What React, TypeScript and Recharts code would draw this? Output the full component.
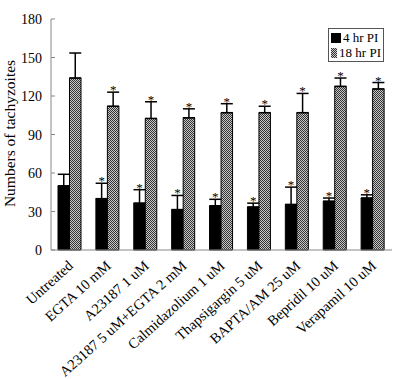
import React from "react";
import {
  BarChart,
  Bar,
  XAxis,
  YAxis,
  ErrorBar,
  LabelList,
} from "recharts";

const categories = [
  "Untreated",
  "EGTA 10 mM",
  "A23187 1 uM",
  "A23187 5 uM+EGTA 2 mM",
  "Calmidazolium 1 uM",
  "Thapsigargin 5 uM",
  "BAPTA/AM 25 uM",
  "Bepridil 10 uM",
  "Verapamil 10 uM",
];
const pi4 = [50, 40, 36.5, 31.5, 34.5, 33.5, 35.5, 38, 40.5];
const pi4Err = [9, 12, 10.5, 11, 5, 3, 13.5, 2.5, 2.5];
const pi18 = [134, 112, 102.5, 103, 107, 107, 107, 127.5, 125.5];
const pi18Err = [19.5, 11, 13, 7, 7, 5, 15, 6.5, 5];
const sig4 = [false, true, true, true, true, true, true, true, true];
const sig18 = [false, true, true, true, true, true, true, true, true];
const yTicks = [0, 30, 60, 90, 120, 150, 180];
const yTitle = "Numbers of tachyzoites";

const data = categories.map((name, i) => ({
  name,
  pi4: pi4[i],
  e4: [0, pi4Err[i]],
  pi18: pi18[i],
  e18: [0, pi18Err[i]],
}));

const FONT = "Liberation Serif";

const star = (errs: number[], sig: boolean[]) => (props: any) => {
  const vb = props.viewBox || {};
  const x = props.x ?? vb.x;
  const y = props.y ?? vb.y;
  const width = props.width ?? vb.width;
  const height = props.height ?? vb.height;
  const i = props.index;
  if (!sig[i] || !props.value) return null;
  const perUnit = height / props.value;
  const top = y - errs[i] * perUnit;
  return (
    <text
      x={x + width / 2}
      y={top + 2}
      textAnchor="middle"
      fontSize={13}
      fontFamily={FONT}
      fill="#000"
    >
      *
    </text>
  );
};

const YTick = (props: any) => {
  const { x, y, payload } = props;
  return (
    <g>
      <line x1={x} x2={x + 4} y1={y} y2={y} stroke="#888" />
      <text
        x={x - 9}
        y={y + 5}
        textAnchor="end"
        fontSize={14}
        fontFamily={FONT}
        fill="#000"
      >
        {payload.value}
      </text>
    </g>
  );
};

const XTick = (props: any) => {
  const { x, y, payload } = props;
  return (
    <text
      x={x + 4}
      y={y + 9}
      textAnchor="end"
      fontSize={14.5}
      fontFamily={FONT}
      fill="#000"
      transform={`rotate(-42, ${x + 4}, ${y + 9})`}
    >
      {payload.value}
    </text>
  );
};

const YTitle = (props: any) => {
  const vb = props.viewBox || {};
  const cx = 15;
  const cy = (vb.y ?? 19) + (vb.height ?? 231) / 2 - 1;
  return (
    <text
      x={cx}
      y={cy}
      textAnchor="middle"
      fontSize={15.5}
      fontFamily={FONT}
      fill="#000"
      transform={`rotate(-90, ${cx}, ${cy})`}
    >
      {yTitle}
    </text>
  );
};

const Swatch = ({ fill }: { fill: string }) => (
  <svg width={10} height={10} style={{ marginRight: 2 }}>
    <defs>
      <pattern id="lgHatch" width={2} height={2} patternUnits="userSpaceOnUse">
        <rect width={2} height={2} fill="#c8c8c8" />
        <rect width={1} height={1} fill="#333" />
        <rect x={1} y={1} width={1} height={1} fill="#333" />
      </pattern>
    </defs>
    <rect width={10} height={10} fill={fill} />
  </svg>
);

const LegendBox = () => (
  <div
    style={{
      position: "absolute",
      left: 328,
      top: 28,
      width: 50,
      border: "1px solid #555",
      background: "#fff",
      padding: "1px 2px",
      fontFamily: FONT,
      fontSize: 13,
      lineHeight: "15px",
      whiteSpace: "nowrap",
    }}
  >
    <div style={{ display: "flex", alignItems: "center" }}>
      <Swatch fill="#000" />
      4 hr PI
    </div>
    <div style={{ display: "flex", alignItems: "center" }}>
      <Swatch fill="url(#lgHatch)" />
      18 hr PI
    </div>
  </div>
);

export default function App() {
  return (
    <div style={{ position: "absolute", left: 0, top: 0, width: 403, height: 379, background: "#fff" }}>
      <BarChart
        width={403}
        height={379}
        data={data}
        margin={{ top: 19, right: 11, bottom: 0, left: 0 }}
        barGap={0}
        barSize={11.5}
      >
        <defs>
          <pattern id="hatch" width={2} height={2} patternUnits="userSpaceOnUse">
            <rect width={2} height={2} fill="#c8c8c8" />
            <rect width={1} height={1} fill="#333" />
            <rect x={1} y={1} width={1} height={1} fill="#333" />
          </pattern>
        </defs>
        <XAxis
          dataKey="name"
          interval={0}
          height={129}
          tickLine={false}
          tick={<XTick />}
          axisLine={{ stroke: "#888" }}
        />
        <XAxis
          xAxisId="top"
          dataKey="name"
          orientation="top"
          height={0}
          tick={false}
          tickLine={false}
          axisLine={{ stroke: "#aaa" }}
        />
        <YAxis
          domain={[0, 180]}
          ticks={yTicks}
          width={51}
          tickLine={false}
          tickSize={0}
          tickMargin={0}
          tick={<YTick />}
          axisLine={{ stroke: "#888" }}
          label={<YTitle />}
        />
        <YAxis
          yAxisId="r"
          orientation="right"
          width={0}
          domain={[0, 180]}
          tick={false}
          tickLine={false}
          axisLine={{ stroke: "#aaa" }}
        />
        <Bar dataKey="pi4" fill="#000" stroke="#000" isAnimationActive={false}>
          <ErrorBar dataKey="e4" width={6} strokeWidth={1.5} stroke="#000" direction="y" />
          <LabelList dataKey="pi4" content={star(pi4Err, sig4)} />
        </Bar>
        <Bar dataKey="pi18" fill="url(#hatch)" stroke="#000" isAnimationActive={false}>
          <ErrorBar dataKey="e18" width={6} strokeWidth={1.5} stroke="#000" direction="y" />
          <LabelList dataKey="pi18" content={star(pi18Err, sig18)} />
        </Bar>
      </BarChart>
      <LegendBox />
    </div>
  );
}
